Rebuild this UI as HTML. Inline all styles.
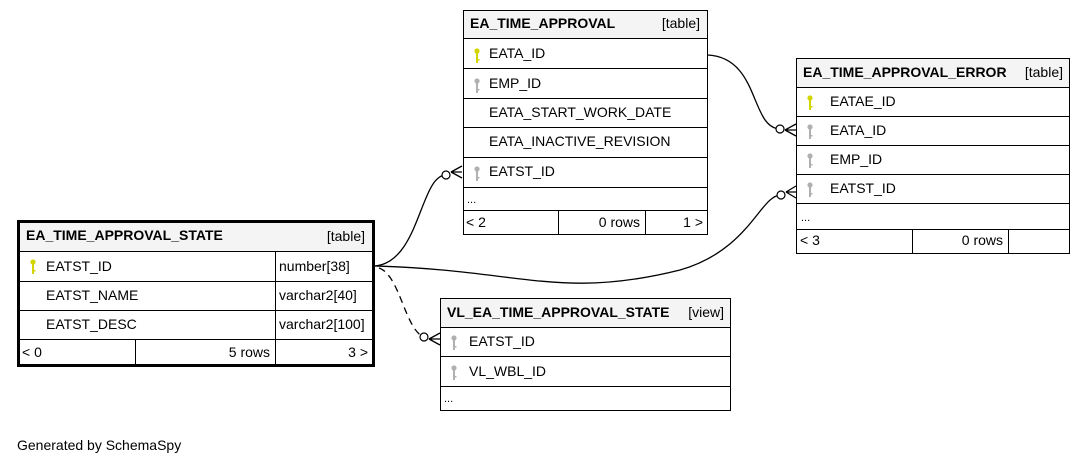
<!DOCTYPE html>
<html><head><meta charset="utf-8"><style>
html,body{margin:0;padding:0;background:#fff;}
svg{display:block;font-family:"Liberation Sans",Arial,sans-serif;}
text{font-size:14px;fill:#000;}
.b{font-weight:bold;}
</style></head><body>
<svg width="1085" height="465" viewBox="0 0 1085 465" xmlns="http://www.w3.org/2000/svg">
<defs>
<g id="ky"><circle cx="0" cy="-4" r="2.6" fill="currentColor"/><rect x="-1" y="-2" width="2" height="10" fill="currentColor"/><rect x="0" y="4" width="2.5" height="1.5" fill="currentColor"/></g>
</defs>
<rect width="1085" height="465" fill="#fff"/>

<!-- connectors -->
<g fill="none" stroke="#000" stroke-width="1.3">
<path d="M375,266 C420,262 420,175 446,175"/>
<path d="M375,266 C520,270 560,300 680,270 C750,250 760,195 781,195"/>
<path d="M379,268 C400,275 405,330 424,337" stroke-dasharray="7,5"/>
<path d="M708,55 C760,58 750,128 780,129"/>
<!-- crowsfeet -->
<path d="M451,172 L462,166 M451,172 L462,172 M451,172 L462,178"/>
<path d="M785,130 L796,124 M785,130 L796,130 M785,130 L796,136"/>
<path d="M786,192 L796,186 M786,192 L796,192 M786,192 L796,198"/>
<path d="M429,339 L440,333 M429,339 L440,339 M429,339 L440,345"/>
</g>
<g fill="#fff" stroke="#000" stroke-width="1.2">
<circle cx="446" cy="175" r="4"/>
<circle cx="780" cy="129" r="4"/>
<circle cx="781" cy="195" r="4"/>
<circle cx="424" cy="337" r="4"/>
</g>

<!-- EA_TIME_APPROVAL -->
<g>
<rect x="463" y="10" width="244" height="28" fill="#f4f4f4"/>
<rect x="463.5" y="10.5" width="244" height="224" fill="none" stroke="#000"/>
<g stroke="#000"><path d="M463,38.5H707M463,68.5H707M463,98.5H707M463,127.5H707M463,157.5H707M463,187.5H707M463,210.5H707M558.5,210V234M645.5,210V234"/></g>
<text x="470" y="28" class="b">EA_TIME_APPROVAL</text><text x="700" y="28" text-anchor="end">[table]</text>
<use href="#ky" x="477" y="55" style="color:#d4d400"/><text x="489" y="58">EATA_ID</text>
<use href="#ky" x="477" y="85" style="color:#b0b0b0"/><text x="489" y="88">EMP_ID</text>
<text x="489" y="117">EATA_START_WORK_DATE</text>
<text x="489" y="146">EATA_INACTIVE_REVISION</text>
<use href="#ky" x="477" y="173" style="color:#b0b0b0"/><text x="489" y="176">EATST_ID</text>
<text x="467" y="203" style="font-size:11px">...</text>
<text x="466" y="227">&lt; 2</text><text x="640" y="227" text-anchor="end">0 rows</text><text x="703" y="227" text-anchor="end">1 &gt;</text>
</g>

<!-- EA_TIME_APPROVAL_ERROR -->
<g>
<rect x="796" y="58" width="274" height="29" fill="#f4f4f4"/>
<rect x="796.5" y="58.5" width="273" height="195" fill="none" stroke="#000"/>
<g stroke="#000"><path d="M796,87.5H1070M796,116.5H1070M796,145.5H1070M796,174.5H1070M796,203.5H1070M796,229.5H1070M912.5,229V253M1008.5,229V253"/></g>
<text x="803" y="77" class="b">EA_TIME_APPROVAL_ERROR</text><text x="1063" y="77" text-anchor="end">[table]</text>
<use href="#ky" x="810" y="102" style="color:#d4d400"/><text x="830" y="106">EATAE_ID</text>
<use href="#ky" x="810" y="131" style="color:#b0b0b0"/><text x="830" y="135">EATA_ID</text>
<use href="#ky" x="810" y="160" style="color:#b0b0b0"/><text x="830" y="164">EMP_ID</text>
<use href="#ky" x="810" y="189" style="color:#b0b0b0"/><text x="830" y="193">EATST_ID</text>
<text x="801" y="221" style="font-size:11px">...</text>
<text x="800" y="245">&lt; 3</text><text x="1003" y="245" text-anchor="end">0 rows</text>
</g>

<!-- EA_TIME_APPROVAL_STATE -->
<g>
<rect x="18" y="221" width="355" height="30" fill="#f4f4f4"/>
<g stroke="#000"><path d="M18,251.5H373M18,281.5H373M18,310.5H373M18,339.5H373M275.5,251V366M135.5,339V366"/></g>
<rect x="18.5" y="221.5" width="355" height="144" fill="none" stroke="#000" stroke-width="3"/>
<text x="26" y="240" class="b">EA_TIME_APPROVAL_STATE</text><text x="365" y="241" text-anchor="end">[table]</text>
<use href="#ky" x="33" y="266" style="color:#d4d400"/><text x="46" y="271">EATST_ID</text><text x="279" y="271">number[38]</text>
<text x="46" y="300">EATST_NAME</text><text x="279" y="300">varchar2[40]</text>
<text x="46" y="329">EATST_DESC</text><text x="279" y="329">varchar2[100]</text>
<text x="22" y="357">&lt; 0</text><text x="270" y="357" text-anchor="end">5 rows</text><text x="368" y="357" text-anchor="end">3 &gt;</text>
</g>

<!-- VL_EA_TIME_APPROVAL_STATE -->
<g>
<rect x="440" y="298" width="290" height="29" fill="#f4f4f4"/>
<rect x="440.5" y="298.5" width="290" height="112" fill="none" stroke="#000"/>
<g stroke="#000"><path d="M440,327.5H730M440,356.5H730M440,386.5H730"/></g>
<text x="447" y="317" class="b">VL_EA_TIME_APPROVAL_STATE</text><text x="724" y="317" text-anchor="end">[view]</text>
<use href="#ky" x="454" y="342" style="color:#b0b0b0"/><text x="469" y="346">EATST_ID</text>
<use href="#ky" x="454" y="372" style="color:#b0b0b0"/><text x="469" y="376">VL_WBL_ID</text>
<text x="444" y="402" style="font-size:11px">...</text>
</g>

<text x="17" y="450">Generated by SchemaSpy</text>
</svg>
</body></html>
